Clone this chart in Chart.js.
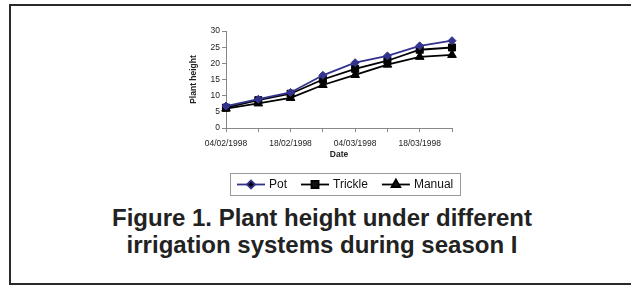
<!DOCTYPE html>
<html>
<head>
<meta charset="utf-8">
<script src="https://cdn.jsdelivr.net/npm/chart.js@4.4.0/dist/chart.umd.min.js"></script>
<style>
  html, body { margin: 0; padding: 0; background: #fff; width: 631px; height: 285px; overflow: hidden; }
  #frame { position: absolute; left: 9px; top: 4px; width: 640px; height: 277px; border: 2px solid #2a2a2a; box-sizing: content-box; }
  #wrap { position: absolute; left: 0; top: 0; width: 631px; height: 200px; }
  #caption { position: absolute; left: 0; top: 204px; width: 644px; text-align: center;
    font-family: "Liberation Sans", Arial, sans-serif; font-weight: bold; font-size: 24px; line-height: 27px; color: #222; }
</style>
</head>
<body>
<div id="frame"></div>
<div id="wrap"><canvas id="c" width="631" height="200"></canvas></div>
<div id="caption">Figure 1. Plant height under different<br>irrigation systems during season I</div>
<script>
const dates = ['04/02/1998','11/02/1998','18/02/1998','25/02/1998','04/03/1998','11/03/1998','18/03/1998','25/03/1998'];
const potHeights     = [6.8, 8.9, 11.0, 16.3, 20.2, 22.3, 25.4, 27.0];
const trickleHeights = [6.3, 8.6, 10.6, 15.0, 18.3, 20.8, 24.2, 24.9];
const manualHeights  = [6.0, 7.6, 9.3, 13.3, 16.4, 19.6, 22.0, 22.6];
const seriesNames = ['Pot', 'Trickle', 'Manual'];
const yTicks = [0, 5, 10, 15, 20, 25, 30];

const tickFont = { family: '"Liberation Sans", Arial, sans-serif', size: 8.5 };
const titleFont = { family: '"Liberation Sans", Arial, sans-serif', size: 8.5, weight: 'bold' };

const boxLegend = {
  id: 'boxLegend',
  afterDraw(chart) {
    const ctx = chart.ctx;
    const x0 = 230, y0 = 173, w = 230, h = 22;
    ctx.save();
    ctx.strokeStyle = '#9a9a9a';
    ctx.lineWidth = 1;
    ctx.strokeRect(x0 + 0.5, y0 + 0.5, w, h);
    ctx.font = '12px "Liberation Sans", Arial, sans-serif';
    ctx.textBaseline = 'middle';
    let x = x0 + 7;
    const cy = y0 + h / 2 + 0.5;
    chart.data.datasets.forEach(ds => {
      ctx.strokeStyle = ds.borderColor;
      ctx.lineWidth = 1.8;
      ctx.beginPath();
      ctx.moveTo(x, cy);
      ctx.lineTo(x + 28, cy);
      ctx.stroke();
      Chart.helpers.drawPoint(ctx, {
        pointStyle: ds.pointStyle, radius: ds.pointRadius, rotation: 0, borderWidth: 1
      }, x + 14, cy);
      ctx.fillStyle = '#111';
      ctx.fillText(ds.label, x + 32, cy);
      x += 32 + ctx.measureText(ds.label).width + 14;
    });
    ctx.restore();
  }
};

new Chart(document.getElementById('c'), {
  type: 'line',
  data: {
    labels: dates,
    datasets: [
      { label: seriesNames[0], data: potHeights, borderColor: '#33338f', backgroundColor: '#33338f',
        pointStyle: 'rectRot', pointRadius: 4, pointBorderWidth: 1, borderWidth: 1.8, tension: 0 },
      { label: seriesNames[1], data: trickleHeights, borderColor: '#000', backgroundColor: '#000',
        pointStyle: 'rect', pointRadius: 5, pointBorderWidth: 1, borderWidth: 1.8, tension: 0 },
      { label: seriesNames[2], data: manualHeights, borderColor: '#000', backgroundColor: '#000',
        pointStyle: 'triangle', pointRadius: 5, pointBorderWidth: 1, borderWidth: 1.8, tension: 0 }
    ]
  },
  options: {
    responsive: false,
    animation: false,
    devicePixelRatio: 1,
    layout: { padding: { left: 186, right: 179, top: 31, bottom: 40 } },
    plugins: { legend: { display: false }, tooltip: { enabled: false } },
    scales: {
      x: {
        type: 'category',
        offset: false,
        afterFit(s) { s.height = 32; },
        grid: { drawOnChartArea: false, drawTicks: true, tickLength: 4, color: '#888' },
        border: { color: '#888', width: 1 },
        ticks: {
          autoSkip: false, maxRotation: 0, minRotation: 0, padding: 7, color: '#222', font: tickFont,
          callback(v, i) { return i % 2 === 0 ? dates[i] : ''; }
        },
        title: { display: true, text: 'Date', color: '#222', font: titleFont, padding: { top: 1, bottom: 0 } }
      },
      y: {
        min: 0, max: 30,
        afterFit(s) { s.width = 40; },
        afterBuildTicks(s) { s.ticks = yTicks.map(v => ({ value: v })); },
        grid: { drawOnChartArea: false, drawTicks: true, tickLength: 4, color: '#888' },
        border: { color: '#888', width: 1 },
        ticks: { padding: 2, color: '#222', font: tickFont },
        title: { display: true, text: 'Plant height', color: '#222', font: titleFont, padding: { top: 3, bottom: 0 } }
      }
    }
  },
  plugins: [boxLegend]
});
</script>
</body>
</html>
